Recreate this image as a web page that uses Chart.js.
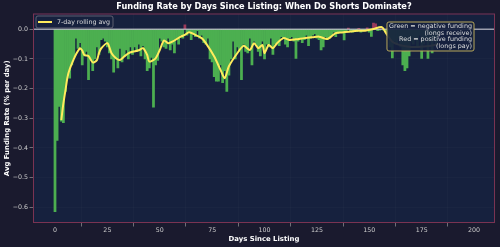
<!DOCTYPE html>
<html>
<head>
<meta charset="utf-8">
<script src="https://cdn.jsdelivr.net/npm/chart.js@4.4.1/dist/chart.umd.min.js"></script>
<style>
  html, body { margin: 0; padding: 0; background: #1a1a2e; }
  canvas { display: block; }
</style>
</head>
<body>
<canvas id="chart" width="500" height="247"></canvas>
<script>
// daily average funding rate (% per day), day 0 .. 183
const dailyRate = [
  -0.615, -0.375, -0.26, -0.31, -0.315, -0.21, -0.155, -0.165, -0.12, -0.095,
  -0.03, -0.065, -0.045, -0.12, -0.09, -0.075, -0.17, -0.105, -0.14, -0.1,
  -0.06, -0.085, -0.035, -0.03, -0.04, -0.06, -0.08, -0.1, -0.145, -0.1,
  -0.13, -0.065, -0.11, -0.09, -0.07, -0.1, -0.06, -0.085, -0.06, -0.075,
  -0.05, -0.09, -0.055, -0.1, -0.14, -0.13, -0.095, -0.263, -0.12, -0.105,
  -0.03, -0.04, -0.06, -0.065, -0.03, -0.07, -0.05, -0.08, -0.035, -0.05,
  -0.02, -0.03, 0.0145, -0.02, -0.01, -0.035, -0.015, -0.025, -0.005, -0.03,
  -0.02, -0.045, -0.05, -0.03, -0.1, -0.11, -0.16, -0.175, -0.175, -0.12,
  -0.18, -0.14, -0.21, -0.155, -0.1, -0.04, -0.1, -0.06, -0.075, -0.17,
  -0.05, -0.075, -0.08, -0.03, -0.12, -0.04, -0.05, -0.075, -0.09, -0.04,
  -0.1, -0.05, -0.06, -0.03, -0.085, -0.05, -0.045, -0.055, -0.025, -0.03,
  -0.05, -0.06, -0.03, -0.025, -0.04, -0.098, -0.04, -0.03, -0.045, -0.035,
  -0.02, -0.055, -0.03, -0.02, -0.015, -0.03, -0.035, -0.07, -0.06, -0.025,
  -0.035, -0.03, -0.02, -0.01, -0.025, -0.015, -0.008, -0.012, -0.036, -0.01,
  0.004, -0.006, -0.01, -0.005, -0.008, 0.003, -0.01, -0.006, -0.004, 0.005,
  -0.01, -0.024, 0.021, 0.018, -0.005, -0.003, 0.002, -0.004, -0.01, -0.02,
  -0.06, -0.097, -0.04, -0.05, -0.03, -0.06, -0.12, -0.14, -0.13, -0.09,
  -0.04, -0.05, -0.03, -0.06, -0.02, -0.098, -0.05, -0.03, -0.098, -0.04,
  -0.08, -0.03, -0.05, -0.02
];
const days = dailyRate.map((v, i) => i);

// 7-day rolling average
const avgDays = [3, 4, 5, 6, 7, 9, 10, 12, 13, 14, 16, 18, 20, 21, 22, 25, 27, 29, 31, 33,
  35, 37, 40, 42, 44, 45, 48, 50, 52, 54, 56, 60, 62, 64, 67, 70, 72, 76, 79, 81,
  83, 87, 90, 93, 95, 97, 99, 100, 102, 104, 106, 109, 112, 115, 119, 123, 126, 130, 134, 137,
  141, 144, 148, 152, 156, 158, 161, 164, 168, 172, 176, 180, 183];
const avgRate = [-0.306, -0.25, -0.205, -0.16, -0.135, -0.1, -0.085, -0.064, -0.072, -0.087,
  -0.09, -0.112, -0.104, -0.08, -0.065, -0.047, -0.081, -0.097, -0.104, -0.092,
  -0.081, -0.076, -0.071, -0.064, -0.087, -0.109, -0.098, -0.07, -0.038, -0.047,
  -0.042, -0.025, -0.019, -0.01, -0.019, -0.03, -0.047, -0.092, -0.137, -0.165,
  -0.125, -0.081, -0.056, -0.07, -0.047, -0.064, -0.053, -0.081, -0.053, -0.064,
  -0.047, -0.03, -0.036, -0.034, -0.03, -0.027, -0.025, -0.033, -0.013, -0.011,
  -0.008, -0.005, -0.005, 0.001, 0.007, -0.013, -0.042, -0.052, -0.058, -0.06,
  -0.058, -0.055, -0.05];

const xTicks = [0, 25, 50, 75, 100, 125, 150, 175, 200];
const yTicks = [-0.6, -0.5, -0.4, -0.3, -0.2, -0.1, 0.0];

const noteLines = ['Green = negative funding', '(longs receive)', 'Red = positive funding', '(longs pay)'];

const FONT = '"DejaVu Sans", sans-serif';
const GREEN = '#4caf50';
const RED = '#9a3a5a';
const YELLOW = '#ffec5c';

const decor = {
  id: 'decor',
  beforeDraw(chart) {
    const { ctx, chartArea: a } = chart;
    ctx.save();
    ctx.fillStyle = '#1a1a2e';
    ctx.fillRect(0, 0, chart.width, chart.height);
    ctx.fillStyle = '#16213e';
    ctx.fillRect(a.left, a.top, a.right - a.left, a.bottom - a.top);
    ctx.restore();
  },
  afterDatasetDraw(chart, args) {
    if (args.index !== 0) return;
    const { ctx, chartArea: a } = chart;
    const y0 = chart.scales.y.getPixelForValue(0);
    ctx.save();
    ctx.strokeStyle = 'rgba(200,200,210,0.75)';
    ctx.lineWidth = 1.5;
    ctx.beginPath();
    ctx.moveTo(a.left, y0);
    ctx.lineTo(a.right, y0);
    ctx.stroke();
    ctx.restore();
  },
  afterDraw(chart) {
    const { ctx, chartArea: a } = chart;
    ctx.save();

    // frame
    ctx.strokeStyle = '#7a3352';
    ctx.lineWidth = 1;
    ctx.strokeRect(a.left + 0.5, a.top + 0.5, a.right - a.left - 1, a.bottom - a.top - 1);

    // title
    ctx.fillStyle = '#ffffff';
    ctx.font = 'bold 8.2px ' + FONT;
    ctx.textAlign = 'center';
    ctx.textBaseline = 'middle';
    ctx.fillText('Funding Rate by Days Since Listing: When Do Shorts Dominate?', (a.left + a.right) / 2, 7);

    // legend
    const lx = a.left + 3, ly = a.top + 2.5;
    ctx.font = '6.3px ' + FONT;
    const label = chart.data.datasets[1].label;
    const lw = 21 + ctx.measureText(label).width + 3;
    ctx.beginPath();
    ctx.roundRect(lx, ly, lw, 12, 2);
    ctx.fillStyle = 'rgba(22,33,62,0.85)';
    ctx.fill();
    ctx.strokeStyle = '#70707e';
    ctx.lineWidth = 0.8;
    ctx.stroke();
    ctx.strokeStyle = YELLOW;
    ctx.lineWidth = 2;
    ctx.beginPath();
    ctx.moveTo(lx + 2, ly + 6);
    ctx.lineTo(lx + 16, ly + 6);
    ctx.stroke();
    ctx.fillStyle = '#dddddd';
    ctx.textAlign = 'left';
    ctx.fillText(label, lx + 21, ly + 6.3);

    // note box
    ctx.font = '6.4px ' + FONT;
    const pad = 2;
    const tw = Math.max(...noteLines.map(t => ctx.measureText(t).width));
    const bx1 = a.right - 21, by0 = a.top + 8.5;
    const bx0 = bx1 - tw - 2 * pad, by1 = by0 + 29;
    ctx.beginPath();
    ctx.roundRect(bx0, by0, bx1 - bx0, by1 - by0, 2);
    ctx.fillStyle = 'rgba(22,33,62,0.92)';
    ctx.fill();
    ctx.strokeStyle = '#b8a85a';
    ctx.lineWidth = 1;
    ctx.stroke();
    ctx.fillStyle = '#dddddd';
    ctx.textAlign = 'right';
    noteLines.forEach((t, i) => ctx.fillText(t, bx1 - pad, by0 + 4 + i * 6.9));

    ctx.restore();
  }
};

const tickFont = { family: FONT, size: 6.3 };
const titleFont = { family: FONT, size: 6.9, weight: 'bold' };

new Chart(document.getElementById('chart'), {
  type: 'bar',
  data: {
    datasets: [
      {
        type: 'bar',
        label: 'Daily avg',
        data: days.map((d, i) => ({ x: d, y: dailyRate[i] })),
        backgroundColor: dailyRate.map(v => (v > 0 ? RED : GREEN)),
        borderWidth: 0,
        barPercentage: 1,
        categoryPercentage: 1,
        order: 1
      },
      {
        type: 'line',
        label: '7-day rolling avg',
        data: avgDays.map((d, i) => ({ x: d, y: avgRate[i] })),
        borderColor: YELLOW,
        borderWidth: 2,
        pointRadius: 0,
        tension: 0.25,
        fill: false,
        order: 0
      }
    ]
  },
  options: {
    responsive: false,
    devicePixelRatio: 1,
    animation: false,
    layout: { padding: { top: 13.5, right: 5, left: 0, bottom: 0 } },
    plugins: {
      legend: { display: false },
      title: { display: false },
      tooltip: { enabled: false }
    },
    scales: {
      x: {
        type: 'linear',
        min: -10.5,
        max: 210,
        offset: false,
        afterFit: s => { s.height = 24; },
        afterBuildTicks: s => { s.ticks = xTicks.map(v => ({ value: v })); },
        ticks: { color: '#cccccc', font: tickFont, padding: 0, maxRotation: 0, autoSkip: false },
        grid: { color: 'rgba(255,255,255,0.035)', tickColor: '#aaaaaa', tickLength: 3.5, lineWidth: 0.6 },
        border: { display: false },
        title: { display: true, text: 'Days Since Listing', color: '#ffffff', font: titleFont, padding: { top: 0, bottom: 3.9 } }
      },
      y: {
        min: -0.653,
        max: 0.053,
        afterFit: s => { s.width = 33; },
        afterBuildTicks: s => { s.ticks = yTicks.map(v => ({ value: v })); },
        ticks: {
          color: '#cccccc',
          font: tickFont,
          padding: 1.5,
          autoSkip: false,
          callback: v => (v < -1e-9 ? '\u2212' : '') + Math.abs(v).toFixed(1)
        },
        grid: { color: 'rgba(255,255,255,0.035)', tickColor: '#aaaaaa', tickLength: 3.5, lineWidth: 0.6 },
        border: { display: false },
        title: { display: true, text: 'Avg Funding Rate (% per day)', color: '#ffffff', font: titleFont, padding: { top: 3.4, bottom: 0 } }
      }
    }
  },
  plugins: [decor]
});
</script>
</body>
</html>
